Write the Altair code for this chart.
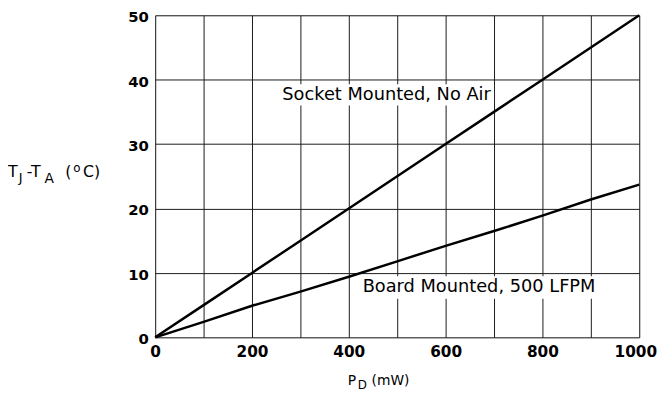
import altair as alt
import pandas as pd

# ---- data ----
pd_mw = [0, 100, 200, 300, 400, 500, 600, 700, 800, 900, 1000]
socket_mounted = [0, 5, 10, 15, 20, 25, 30, 35, 40, 45, 50]
board_mounted = [0, 2.4, 4.9, 7.1, 9.4, 11.8, 14.2, 16.5, 18.9, 21.4, 23.7]
series_names = ["Socket Mounted, No Air", "Board Mounted, 500 LFPM"]
x_ticks = list(range(0, 1001, 100))
y_ticks = list(range(0, 51, 5))

rows = []
for name, vals in zip(series_names, [socket_mounted, board_mounted]):
    for x, y in zip(pd_mw, vals):
        rows.append({"pd": x, "dt": y, "series": name})
df = pd.DataFrame(rows)

FONT = "DejaVu Sans"

xscale = alt.Scale(domain=[0, 1000], nice=False, zero=True)
yscale = alt.Scale(domain=[0, 50], nice=False, zero=True)

xaxis = alt.Axis(values=x_ticks, labelExpr="datum.value % 200 == 0 ? datum.label : ''",
                 format="d", grid=True, ticks=False, domain=False, title=None,
                 labelFont=FONT, labelFontWeight="bold", labelFontSize=15.5, labelColor="black",
                 labelPadding=7, labelOverlap=False, labelFlush=False,
                 labelOffset={"condition": {"test": "datum.value == 1000", "value": -4},
                              "value": 0},
                 gridColor="#1a1a1a", gridWidth=1, gridOpacity=1)
yaxis = alt.Axis(values=y_ticks, labelExpr="datum.value % 10 == 0 ? datum.label : ''",
                 format="d", grid=True, ticks=False, domain=False, title=None,
                 labelFont=FONT, labelFontWeight="bold", labelFontSize=15, labelColor="black",
                 labelPadding=7, labelOverlap=False, labelFlush=False, labelOffset=1.5,
                 gridColor="#1a1a1a", gridWidth=1, gridOpacity=1)

lines = alt.Chart(df).mark_line(color="black", strokeWidth=2.5).encode(
    x=alt.X("pd:Q", scale=xscale, axis=xaxis),
    y=alt.Y("dt:Q", scale=yscale, axis=yaxis),
    detail="series:N",
)

one = pd.DataFrame({"k": [0]})

# white boxes behind the in-plot labels (the grid is broken there)
box_socket = alt.Chart(one).mark_rect(color="white").encode(
    x=alt.datum(257), x2=alt.datum(700), y=alt.datum(39.3), y2=alt.datum(36.0))
box_board = alt.Chart(one).mark_rect(color="white").encode(
    x=alt.datum(418), x2=alt.datum(918), y=alt.datum(9.5), y2=alt.datum(6.0))

lab_socket = alt.Chart(pd.DataFrame({"label": [series_names[0]]})).mark_text(
    font=FONT, fontSize=18, color="black", align="center", baseline="alphabetic"
).encode(x=alt.datum(478), y=alt.datum(36.8), text="label:N")
lab_board = alt.Chart(pd.DataFrame({"label": [series_names[1]]})).mark_text(
    font=FONT, fontSize=18, color="black", align="center", baseline="alphabetic"
).encode(x=alt.datum(669), y=alt.datum(7.0), text="label:N")


def piece(txt, x, y, size):
    return alt.Chart(pd.DataFrame({"t": [txt]})).mark_text(
        font=FONT, fontSize=size, color="black", align="left", baseline="alphabetic"
    ).encode(x=alt.value(x), y=alt.value(y), text="t:N")


# y title: T_J-T_A (°C)
ytitle = [
    piece("T", -149, 164, 16),
    piece("J", -138, 169, 13),
    piece("-T", -130, 164, 16),
    piece("A", -112, 170, 14),
    piece("(", -91, 164, 16),
    piece("o", -83, 159, 12),
    piece("C)", -73, 164, 16),
]
# x title: P_D (mW)
xtitle = [
    piece("P", 195, 374, 14),
    piece("D", 205, 378, 12),
    piece("(mW)", 219, 374, 14),
]

chart = alt.layer(
    box_socket, box_board, lines, lab_socket, lab_board, *ytitle, *xtitle
).properties(
    width=490, height=326,
    autosize=alt.AutoSizeParams(type="none"),
    padding={"left": 149, "top": 5, "right": 20, "bottom": 54},
).configure_view(
    stroke="black", strokeWidth=2
).configure(background="white")

chart.save("out.html", embed_options={"renderer": "svg", "actions": False})
